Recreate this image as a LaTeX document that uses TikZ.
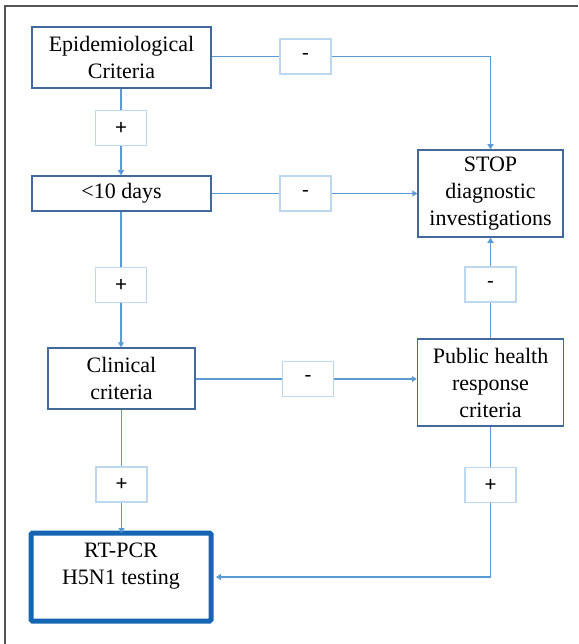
\documentclass[tikz,border=0pt]{standalone}
\usepackage{fontspec}
\setmainfont{Liberation Serif}
\newfontfamily\boxfont{Liberation Serif}
\newfontfamily\signfont{Carlito}
\usetikzlibrary{arrows.meta}
\definecolor{boxc}{RGB}{65,105,155}
\definecolor{signc}{RGB}{189,215,238}
\definecolor{linec}{RGB}{91,155,213}
\definecolor{rtc}{RGB}{21,101,178}
\definecolor{framec}{RGB}{85,85,85}
\begin{document}
\begin{tikzpicture}[x=1pt,y=-1pt,
  mainbox/.style={draw=boxc,line width=1.5pt,fill=white,align=center,inner sep=0pt,
    font=\boxfont\fontsize{22}{27}\selectfont},
  signbox/.style={draw=signc,line width=1.5pt,fill=white,inner sep=0pt,
    minimum width=51pt,minimum height=35pt,font=\signfont\fontsize{22}{26}\selectfont},
  rtbox/.style={draw=rtc,line width=5pt,rounded corners=1.5pt,fill=white,align=center,inner sep=0pt,
    font=\boxfont\fontsize{22}{27}\selectfont},
  conn/.style={draw=linec,line width=1.5pt},
  arr/.style={conn,-{Triangle[width=6pt,length=5pt]}},
  frameline/.style={draw=framec,line width=1.8pt}
]
\useasboundingbox (0,0) rectangle (578,644);
\draw[frameline] (5,644) -- (5,6) -- (578,6);

% main boxes
\node[mainbox,minimum width=179pt,minimum height=61pt] (epi) at (121.5,57.5) {Epidemiological\\Criteria};
\node[mainbox,minimum width=179pt,minimum height=35pt] (days) at (121.5,193.5) {<10 days};
\node[mainbox,minimum width=145pt,minimum height=87pt] (stop) at (490.5,193.5) {STOP\\diagnostic\\investigations};
\node[mainbox,minimum width=147pt,minimum height=61pt] (clin) at (121.5,378.5) {Clinical\\criteria};
\node[mainbox,minimum width=146pt,minimum height=87pt] (pub) at (490.5,382.5) {Public health\\response\\criteria};
\node[rtbox,minimum width=180pt,minimum height=88pt] (rt) at (121,577) {RT-PCR\\H5N1 testing\\~};

% sign boxes
\node[signbox] (m1) at (305.5,56.5) {-};
\node[signbox] (p1) at (121,128) {+};
\node[signbox] (m2) at (305.5,193.5) {-};
\node[signbox] (p2) at (121,285) {+};
\node[signbox] (m3) at (490.5,284.5) {-};
\node[signbox] (m4) at (308,379) {-};
\node[signbox] (p3) at (121.5,484.5) {+};
\node[signbox] (p4) at (490.5,485) {+};

% connectors
\draw[conn] (epi.east |- m1) -- (m1.west);
\draw[arr] (m1.east) -| (stop.north);
\draw[conn] (epi.south -| p1) -- (p1.north);
\draw[arr] (p1.south) -- (days.north -| p1);
\draw[conn] (days.east) -- (m2.west);
\draw[arr] (m2.east) -- (stop.west);
\draw[conn] (days.south -| p2) -- (p2.north);
\draw[arr] (p2.south) -- (clin.north -| p2);
\draw[conn] (clin.east |- m4) -- (m4.west);
\draw[arr] (m4.east) -- (m4 -| pub.west);
\draw[conn] (pub.north) -- (m3.south);
\draw[arr] (m3.north) -- (stop.south);
\draw[conn] (clin.south -| p3) -- (p3.north);
\draw[arr] (p3.south) -- ([yshift=-2.5pt]rt.north -| p3);
\draw[conn] (pub.south) -- (p4.north);
\draw[arr] (p4.south) |- ([xshift=2.5pt]rt.east);
\end{tikzpicture}
\end{document}
